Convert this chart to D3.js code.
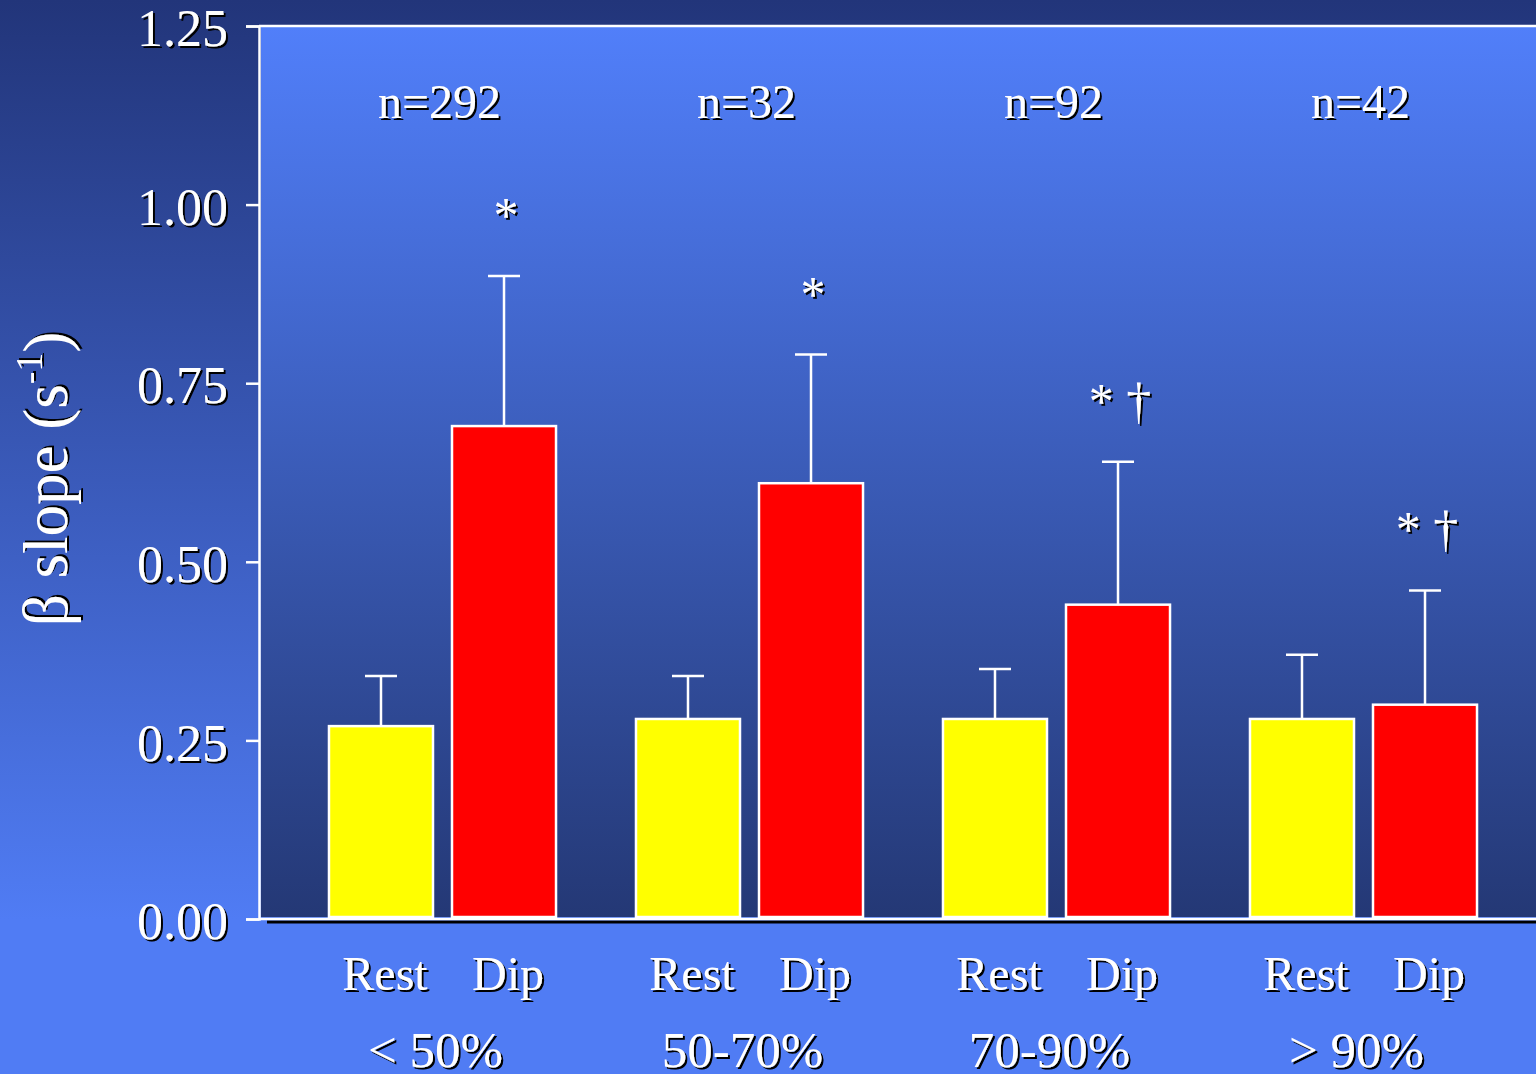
<!DOCTYPE html>
<html>
<head>
<meta charset="utf-8">
<script src="https://cdn.jsdelivr.net/npm/d3@7"></script>
<style>
  html, body { margin: 0; padding: 0; background: #22357a; }
  svg { display: block; }
  text { font-family: "Liberation Serif", "Times New Roman", serif; fill: #fff; }
</style>
</head>
<body>
<svg id="chart" width="1536" height="1074"></svg>
<script>
// Stenosis severity groups and the two conditions measured in each
const groups = ["< 50%", "50-70%", "70-90%", "> 90%"];
const conditions = ["Rest", "Dip"];
const groupCounts = ["n=292", "n=32", "n=92", "n=42"];

// β slope (s⁻¹): means and upper error (SD) per group
const restMean = [0.27, 0.28, 0.28, 0.28];
const restErr  = [0.07, 0.06, 0.07, 0.09];
const dipMean  = [0.69, 0.61, 0.44, 0.30];
const dipErr   = [0.21, 0.18, 0.20, 0.16];

// significance marks above the Dip bars
const dipMarks = ["*", "*", "* †", "* †"];

const yTicks = [0, 0.25, 0.5, 0.75, 1.0, 1.25];

const W = 1536, H = 1074;
const plot = { left: 259, right: 1536, top: 26, bottom: 919 };

const svg = d3.select("#chart");
const defs = svg.append("defs");

// background gradients
const bg = defs.append("linearGradient").attr("id", "bgGrad")
  .attr("gradientUnits", "userSpaceOnUse").attr("x1", 0).attr("y1", 0).attr("x2", 0).attr("y2", 920);
bg.append("stop").attr("offset", 0).attr("stop-color", "#22357a");
bg.append("stop").attr("offset", 1).attr("stop-color", "#507cf4");

const pg = defs.append("linearGradient").attr("id", "plotGrad")
  .attr("gradientUnits", "userSpaceOnUse").attr("x1", 0).attr("y1", plot.top).attr("x2", 0).attr("y2", plot.bottom);
pg.append("stop").attr("offset", 0).attr("stop-color", "#517ffa");
pg.append("stop").attr("offset", 1).attr("stop-color", "#243875");

// crisp drop shadow for lettering
const sh = defs.append("filter").attr("id", "shadow")
  .attr("x", "-20%").attr("y", "-20%").attr("width", "140%").attr("height", "140%");
sh.append("feDropShadow").attr("dx", 2).attr("dy", 2).attr("stdDeviation", 0.5)
  .attr("flood-color", "#000").attr("flood-opacity", 1);

svg.append("rect").attr("width", W).attr("height", H).attr("fill", "url(#bgGrad)");
svg.append("rect").attr("x", 0).attr("y", 920).attr("width", W).attr("height", H - 920).attr("fill", "#507cf4");

svg.append("rect")
  .attr("x", plot.left + 2).attr("y", plot.top)
  .attr("width", plot.right - plot.left - 2).attr("height", plot.bottom - plot.top - 2)
  .attr("fill", "url(#plotGrad)");

// scales
const y = d3.scaleLinear().domain([0, 1.25]).range([plot.bottom, plot.top]);
const x0 = d3.scaleBand().domain(groups).range([289, 1517]).padding(0);
const x1 = d3.scaleBand().domain(conditions).range([0, x0.bandwidth()])
  .paddingInner(0.1545).paddingOuter(0.325);

const rows = groups.map((g, i) => ({
  group: g, count: groupCounts[i], mark: dipMarks[i],
  bars: [
    { group: g, cond: "Rest", mean: restMean[i], err: restErr[i], color: "#ffff00" },
    { group: g, cond: "Dip",  mean: dipMean[i],  err: dipErr[i],  color: "#ff0000" }
  ]
}));

// top border of the plot area
svg.append("line")
  .attr("x1", plot.left).attr("x2", plot.right)
  .attr("y1", y(1.25)).attr("y2", y(1.25))
  .attr("stroke", "#fff").attr("stroke-width", 2.5);

// y axis
const yAxis = svg.append("g")
  .attr("transform", `translate(${plot.left},0)`)
  .call(d3.axisLeft(y).tickValues(yTicks).tickFormat(d3.format(".2f")).tickSize(13).tickPadding(18));
yAxis.select(".domain").attr("stroke", "#fff").attr("stroke-width", 2.5);
yAxis.selectAll(".tick line").attr("stroke", "#fff").attr("stroke-width", 2.5);
yAxis.selectAll(".tick text")
  .attr("fill", "#fff").attr("font-size", 52).attr("dy", "0.38em")
  .style("font-family", "'Liberation Serif', serif")
  .attr("filter", "url(#shadow)");

// bars
const gGroups = svg.append("g").selectAll("g").data(rows).join("g")
  .attr("transform", d => `translate(${x0(d.group)},0)`);

gGroups.selectAll("line.err-v").data(d => d.bars).join("line")
  .attr("class", "err-v")
  .attr("x1", d => x1(d.cond) + x1.bandwidth() / 2)
  .attr("x2", d => x1(d.cond) + x1.bandwidth() / 2)
  .attr("y1", d => y(d.mean)).attr("y2", d => y(d.mean + d.err))
  .attr("stroke", "#fff").attr("stroke-width", 2.5);

gGroups.selectAll("line.err-cap").data(d => d.bars).join("line")
  .attr("class", "err-cap")
  .attr("x1", d => x1(d.cond) + x1.bandwidth() / 2 - 16)
  .attr("x2", d => x1(d.cond) + x1.bandwidth() / 2 + 16)
  .attr("y1", d => y(d.mean + d.err)).attr("y2", d => y(d.mean + d.err))
  .attr("stroke", "#fff").attr("stroke-width", 2.5);

gGroups.selectAll("rect").data(d => d.bars).join("rect")
  .attr("x", d => x1(d.cond))
  .attr("y", d => y(d.mean))
  .attr("width", x1.bandwidth())
  .attr("height", d => y(0) - y(d.mean) - 2)
  .attr("fill", d => d.color)
  .attr("stroke", "#fff").attr("stroke-width", 2.5);

// significance marks
gGroups.append("text")
  .attr("x", x1("Dip") + x1.bandwidth() / 2 + 2)
  .attr("y", d => y(d.bars[1].mean + d.bars[1].err) - 44)
  .attr("text-anchor", "middle").attr("font-size", 50)
  .attr("xml:space", "preserve")
  .attr("filter", "url(#shadow)")
  .text(d => d.mark);

// group counts
gGroups.append("text")
  .attr("x", x0.bandwidth() / 2 - 3).attr("y", 118)
  .attr("text-anchor", "middle").attr("font-size", 48)
  .attr("filter", "url(#shadow)")
  .text(d => d.count);

// x axis line with black shadow
svg.append("line")
  .attr("x1", plot.left + 8).attr("x2", plot.right)
  .attr("y1", 922).attr("y2", 922)
  .attr("stroke", "#000").attr("stroke-width", 3);
svg.append("line")
  .attr("x1", plot.left).attr("x2", plot.right)
  .attr("y1", y(0)).attr("y2", y(0))
  .attr("stroke", "#fff").attr("stroke-width", 2.5);

// condition labels
gGroups.selectAll("text.cond").data(d => d.bars).join("text")
  .attr("class", "cond")
  .attr("x", d => x1(d.cond) + x1.bandwidth() / 2 + 4).attr("y", 990)
  .attr("text-anchor", "middle").attr("font-size", 48)
  .attr("filter", "url(#shadow)")
  .text(d => d.cond);

// group labels
gGroups.append("text")
  .attr("x", x0.bandwidth() / 2 - 7).attr("y", 1067)
  .attr("text-anchor", "middle").attr("font-size", 51)
  .attr("filter", "url(#shadow)")
  .text(d => d.group);

// y axis title
const title = svg.append("text")
  .attr("transform", "translate(67,479) rotate(-90)")
  .attr("text-anchor", "middle").attr("font-size", 63)
  .attr("filter", "url(#shadow)");
title.append("tspan").text("β slope (s");
title.append("tspan").attr("font-size", 38).attr("dy", -25).text("-1");
title.append("tspan").attr("dy", 25).text(")");
</script>
</body>
</html>
